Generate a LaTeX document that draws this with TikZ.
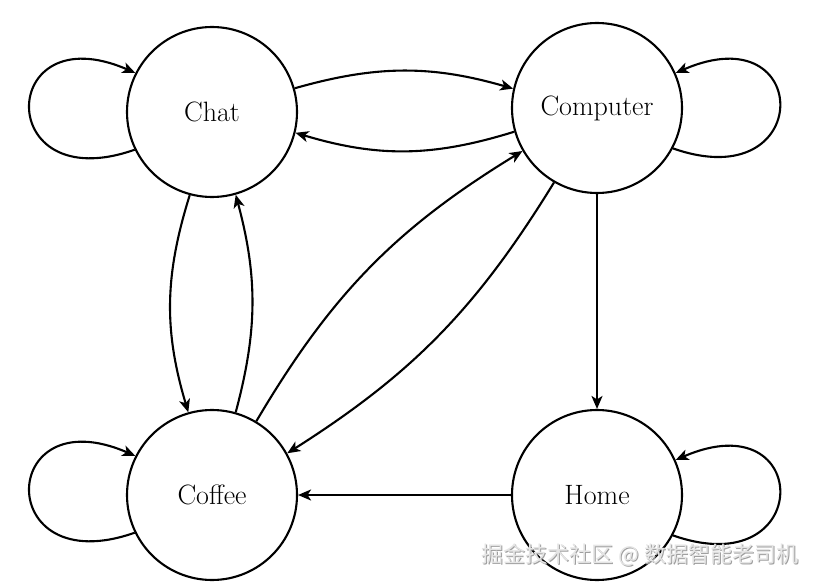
\documentclass[tikz,border=0pt]{standalone}
\usepackage{fontspec}
\newfontfamily\cjk{Noto Sans CJK SC}
\usetikzlibrary{arrows.meta}
\begin{document}
\begin{tikzpicture}[x=1pt,y=-1pt,
  state/.style={circle,draw,line width=2.1pt,minimum size=170pt,inner sep=0pt,
    font=\fontsize{28}{33}\selectfont},
  edge/.style={line width=2.1pt,-{Stealth[length=13pt,width=11pt,inset=3.5pt]}},
  wm/.style={font=\cjk\fontsize{22}{25}\selectfont}]
\useasboundingbox (0,0) rectangle (817,588);
\node[state] (chat) at (212,112) {Chat};
\node[state] (comp) at (597,108) {Computer};
\node[state] (coffee) at (212,495) {Coffee};
\node[state] (home) at (597,495) {Home};
% self loops
\draw[edge] (chat.206) .. controls +(-142,50) and +(-138,-60) .. (chat.153);
\draw[edge] (coffee.206) .. controls +(-142,50) and +(-138,-60) .. (coffee.153);
\draw[edge] (comp.332) .. controls +(142,50) and +(138,-60) .. (comp.24);
\draw[edge] (home.332) .. controls +(142,50) and +(138,-60) .. (home.24);
% chat <-> computer
\draw[edge] (chat.16) to[bend left=16] (comp.167);
\draw[edge] (comp.196) to[bend left=17] (chat.346);
% chat <-> coffee
\draw[edge] (chat.255) to[bend right=17] (coffee.106);
\draw[edge] (coffee.74) to[bend right=15] (chat.286);
% coffee <-> computer
\draw[edge] (coffee.59) to[bend left=14] (comp.210);
\draw[edge] (comp.240) to[bend left=13] (coffee.29);
% straight
\draw[edge] (comp) -- (home);
\draw[edge] (home) -- (coffee);
% watermark
\node[wm,text=gray!75] (wmshadow) at (641,556) {掘金技术社区 @ 数据智能老司机};
\node[wm,text=gray!20] (wmtext) at (640,555) {掘金技术社区 @ 数据智能老司机};
\end{tikzpicture}
\end{document}
